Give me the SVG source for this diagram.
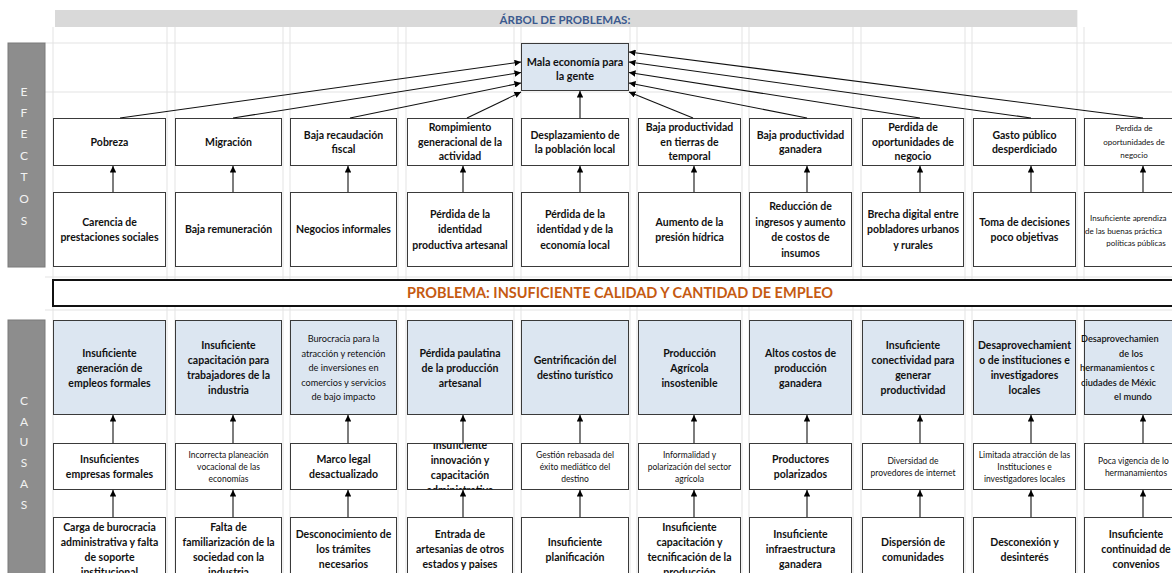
<svg xmlns="http://www.w3.org/2000/svg" width="1172" height="573" viewBox="0 0 1172 573">
<style>
.t{font-family:Lato,"Liberation Sans",sans-serif;font-weight:bold;font-size:10.5px;fill:#111;text-anchor:middle}
.s{font-family:Lato,"Liberation Sans",sans-serif;font-weight:normal;font-size:8.5px;fill:#111;text-anchor:middle}
.m{font-family:Lato,"Liberation Sans",sans-serif;font-weight:normal;font-size:9.2px;fill:#111;text-anchor:middle}
.st{text-anchor:start}
.bx{fill:#fff;stroke:#3a3a3a;stroke-width:1}
.bl{fill:#dce6f1;stroke:#3a3a3a;stroke-width:1}
.ln{stroke:#111;stroke-width:1.1;fill:none;marker-end:url(#ah)}
.g{stroke:#e3e3e3;stroke-width:1}
.pn{fill:#8d8d8d;stroke:#7a7a7a;stroke-width:1}
.pl{font-family:Lato,"Liberation Sans",sans-serif;font-size:12px;fill:#f2f2f2;text-anchor:middle}
</style>
<defs>
<marker id="ah" viewBox="0 0 8 8" refX="8" refY="4" markerWidth="6.5" markerHeight="6.5" markerUnits="userSpaceOnUse" orient="auto">
<path d="M0,0 L8,4 L0,8 z" fill="#000"/>
</marker>
<clipPath id="cd4"><rect x="407.5" y="443.5" width="105" height="46"/></clipPath>
</defs>
<rect width="1172" height="573" fill="#fff"/>
<g id="grid">
<line class="g" x1="53" y1="27" x2="53" y2="573"/>
<line class="g" x1="167" y1="27" x2="167" y2="573"/>
<line class="g" x1="175" y1="27" x2="175" y2="573"/>
<line class="g" x1="283" y1="27" x2="283" y2="573"/>
<line class="g" x1="290" y1="27" x2="290" y2="573"/>
<line class="g" x1="398" y1="27" x2="398" y2="573"/>
<line class="g" x1="406" y1="27" x2="406" y2="573"/>
<line class="g" x1="514" y1="27" x2="514" y2="573"/>
<line class="g" x1="521" y1="27" x2="521" y2="573"/>
<line class="g" x1="630" y1="27" x2="630" y2="573"/>
<line class="g" x1="637" y1="27" x2="637" y2="573"/>
<line class="g" x1="742" y1="27" x2="742" y2="573"/>
<line class="g" x1="749" y1="27" x2="749" y2="573"/>
<line class="g" x1="853" y1="27" x2="853" y2="573"/>
<line class="g" x1="861" y1="27" x2="861" y2="573"/>
<line class="g" x1="965" y1="27" x2="965" y2="573"/>
<line class="g" x1="972" y1="27" x2="972" y2="573"/>
<line class="g" x1="1077" y1="10" x2="1077" y2="573"/>
<line class="g" x1="1084" y1="27" x2="1084" y2="573"/>
<line class="g" x1="45" y1="43" x2="1172" y2="43"/>
<line class="g" x1="45" y1="92" x2="1172" y2="92"/>
<line class="g" x1="45" y1="277" x2="1172" y2="277"/>
<line class="g" x1="45" y1="310" x2="1172" y2="310"/>
</g>
<g id="header">
<rect x="55" y="10" width="1022" height="17" fill="#d9d9d9"/>
<text x="565" y="23.5" style="font-family:Lato,'Liberation Sans',sans-serif;font-weight:bold;font-size:11.5px;fill:#3b5a8f;text-anchor:middle">ÁRBOL DE PROBLEMAS:</text>
</g>
<g id="panel-efectos">
<rect class="pn" x="8" y="43" width="37" height="224"/>
<text class="pl" x="24"><tspan x="24" y="96">E</tspan><tspan x="24" y="117">F</tspan><tspan x="24" y="138">E</tspan><tspan x="24" y="160">C</tspan><tspan x="24" y="181">T</tspan><tspan x="24" y="203">O</tspan><tspan x="24" y="225">S</tspan></text>
</g>
<g id="panel-causas">
<rect class="pn" x="8" y="320" width="37" height="270"/>
<text class="pl" x="24"><tspan x="24" y="405">C</tspan><tspan x="24" y="426">A</tspan><tspan x="24" y="446">U</tspan><tspan x="24" y="467">S</tspan><tspan x="24" y="488">A</tspan><tspan x="24" y="509">S</tspan></text>
</g>
<g id="top">
<rect class="bl" x="521.5" y="43.5" width="107" height="47"/>
<text class="t" style="font-size:10.8px"><tspan x="575" y="65.7">Mala economía para</tspan><tspan x="575" y="79.7">la gente</tspan></text>
</g>
<g id="problema">
<rect x="53" y="280" width="1140" height="26" fill="#fff" stroke="#111" stroke-width="2"/>
<text x="620" y="298" style="font-family:Lato,'Liberation Sans',sans-serif;font-weight:bold;font-size:14.5px;fill:#c55a11;text-anchor:middle">PROBLEMA: INSUFICIENTE CALIDAD Y CANTIDAD DE EMPLEO</text>
</g>
<g id="e1"><rect class="bx" x="53.5" y="118.5" width="112" height="47"/><text class="t"><tspan x="109.5" y="145.7">Pobreza</tspan></text></g>
<g id="e2"><rect class="bx" x="175.5" y="118.5" width="106" height="47"/><text class="t"><tspan x="228.5" y="145.7">Migración</tspan></text></g>
<g id="e3"><rect class="bx" x="290.5" y="118.5" width="106" height="47"/><text class="t"><tspan x="343.5" y="138.5">Baja recaudación</tspan><tspan x="343.5" y="153">fiscal</tspan></text></g>
<g id="e4"><rect class="bx" x="407.5" y="118.5" width="105" height="47"/><text class="t"><tspan x="460" y="131.2">Rompimiento</tspan><tspan x="460" y="145.7">generacional de la</tspan><tspan x="460" y="160.2">actividad</tspan></text></g>
<g id="e5"><rect class="bx" x="521.5" y="118.5" width="107" height="47"/><text class="t"><tspan x="575" y="138.5">Desplazamiento de</tspan><tspan x="575" y="153">la población local</tspan></text></g>
<g id="e6"><rect class="bx" x="638.5" y="118.5" width="102" height="47"/><text class="t"><tspan x="689.5" y="131.2">Baja productividad</tspan><tspan x="689.5" y="145.7">en tierras de</tspan><tspan x="689.5" y="160.2">temporal</tspan></text></g>
<g id="e7"><rect class="bx" x="749.5" y="118.5" width="102" height="47"/><text class="t"><tspan x="800.5" y="138.5">Baja productividad</tspan><tspan x="800.5" y="153">ganadera</tspan></text></g>
<g id="e8"><rect class="bx" x="862.5" y="118.5" width="101" height="47"/><text class="t"><tspan x="913" y="131.2">Perdida de</tspan><tspan x="913" y="145.7">oportunidades de</tspan><tspan x="913" y="160.2">negocio</tspan></text></g>
<g id="e9"><rect class="bx" x="973.5" y="118.5" width="102" height="47"/><text class="t"><tspan x="1024.5" y="138.5">Gasto público</tspan><tspan x="1024.5" y="153">desperdiciado</tspan></text></g>
<g id="e10"><rect class="bx" x="1084.5" y="118.5" width="110" height="47"/><text class="s" style="font-size:8px"><tspan x="1134" y="131">Perdida de</tspan><tspan x="1134" y="145">oportunidades de</tspan><tspan x="1134" y="158">negocio</tspan></text></g>
<g id="f1"><rect class="bx" x="53.5" y="192.5" width="112" height="74"/><text class="t"><tspan x="109.5" y="225.5">Carencia de</tspan><tspan x="109.5" y="241">prestaciones sociales</tspan></text></g>
<g id="f2"><rect class="bx" x="175.5" y="192.5" width="106" height="74"/><text class="t"><tspan x="228.5" y="233.2">Baja remuneración</tspan></text></g>
<g id="f3"><rect class="bx" x="290.5" y="192.5" width="106" height="74"/><text class="t"><tspan x="343.5" y="233.2">Negocios informales</tspan></text></g>
<g id="f4"><rect class="bx" x="407.5" y="192.5" width="105" height="74"/><text class="t"><tspan x="460" y="217.7">Pérdida de la</tspan><tspan x="460" y="233.2">identidad</tspan><tspan x="460" y="248.7">productiva artesanal</tspan></text></g>
<g id="f5"><rect class="bx" x="521.5" y="192.5" width="107" height="74"/><text class="t"><tspan x="575" y="217.7">Pérdida de la</tspan><tspan x="575" y="233.2">identidad y de la</tspan><tspan x="575" y="248.7">economía local</tspan></text></g>
<g id="f6"><rect class="bx" x="638.5" y="192.5" width="102" height="74"/><text class="t"><tspan x="689.5" y="225.5">Aumento de la</tspan><tspan x="689.5" y="241">presión hídrica</tspan></text></g>
<g id="f7"><rect class="bx" x="749.5" y="192.5" width="102" height="74"/><text class="t"><tspan x="800.5" y="210">Reducción de</tspan><tspan x="800.5" y="225.5">ingresos y aumento</tspan><tspan x="800.5" y="241">de costos de</tspan><tspan x="800.5" y="256.5">insumos</tspan></text></g>
<g id="f8"><rect class="bx" x="862.5" y="192.5" width="101" height="74"/><text class="t"><tspan x="913" y="217.7">Brecha digital entre</tspan><tspan x="913" y="233.2">pobladores urbanos</tspan><tspan x="913" y="248.7">y rurales</tspan></text></g>
<g id="f9"><rect class="bx" x="973.5" y="192.5" width="102" height="74"/><text class="t"><tspan x="1024.5" y="225.5">Toma de decisiones</tspan><tspan x="1024.5" y="241">poco objetivas</tspan></text></g>
<g id="f10"><rect class="bx" x="1084.5" y="192.5" width="110" height="74"/><text class="s" style="font-size:8px"><tspan class="st" x="1090" y="221">Insuficiente aprendiza</tspan><tspan class="st" x="1085" y="233.5">de las buenas práctica</tspan><tspan x="1136" y="246">políticas públicas</tspan></text></g>
<g id="c1"><rect class="bl" x="53.5" y="320.5" width="112" height="94"/><text class="t"><tspan x="109.5" y="356.7">Insuficiente</tspan><tspan x="109.5" y="371.7">generación de</tspan><tspan x="109.5" y="386.7">empleos formales</tspan></text></g>
<g id="c2"><rect class="bl" x="175.5" y="320.5" width="106" height="94"/><text class="t"><tspan x="228.5" y="349.2">Insuficiente</tspan><tspan x="228.5" y="364.2">capacitación para</tspan><tspan x="228.5" y="379.2">trabajadores de la</tspan><tspan x="228.5" y="394.2">industria</tspan></text></g>
<g id="c3"><rect class="bl" x="290.5" y="320.5" width="106" height="94"/><text class="m"><tspan x="343.5" y="342.2">Burocracia para la</tspan><tspan x="343.5" y="356.7">atracción y retención</tspan><tspan x="343.5" y="371.2">de inversiones en</tspan><tspan x="343.5" y="385.7">comercios y servicios</tspan><tspan x="343.5" y="400.2">de bajo impacto</tspan></text></g>
<g id="c4"><rect class="bl" x="407.5" y="320.5" width="105" height="94"/><text class="t"><tspan x="460" y="356.7">Pérdida paulatina</tspan><tspan x="460" y="371.7">de la producción</tspan><tspan x="460" y="386.7">artesanal</tspan></text></g>
<g id="c5"><rect class="bl" x="521.5" y="320.5" width="107" height="94"/><text class="t"><tspan x="575" y="364.2">Gentrificación del</tspan><tspan x="575" y="379.2">destino turístico</tspan></text></g>
<g id="c6"><rect class="bl" x="638.5" y="320.5" width="102" height="94"/><text class="t"><tspan x="689.5" y="356.7">Producción</tspan><tspan x="689.5" y="371.7">Agrícola</tspan><tspan x="689.5" y="386.7">insostenible</tspan></text></g>
<g id="c7"><rect class="bl" x="749.5" y="320.5" width="102" height="94"/><text class="t"><tspan x="800.5" y="356.7">Altos costos de</tspan><tspan x="800.5" y="371.7">producción</tspan><tspan x="800.5" y="386.7">ganadera</tspan></text></g>
<g id="c8"><rect class="bl" x="862.5" y="320.5" width="101" height="94"/><text class="t"><tspan x="913" y="349.2">Insuficiente</tspan><tspan x="913" y="364.2">conectividad para</tspan><tspan x="913" y="379.2">generar</tspan><tspan x="913" y="394.2">productividad</tspan></text></g>
<g id="c9"><rect class="bl" x="973.5" y="320.5" width="102" height="94"/><text class="t"><tspan x="1024.5" y="349.2">Desaprovechamient</tspan><tspan x="1024.5" y="364.2">o de instituciones e</tspan><tspan x="1024.5" y="379.2">investigadores</tspan><tspan x="1024.5" y="394.2">locales</tspan></text></g>
<g id="c10"><rect class="bl" x="1084.5" y="320.5" width="110" height="94"/><text class="m" style="font-weight:600"><tspan class="st" x="1081" y="342.2">Desaprovechamien</tspan><tspan x="1131" y="356.7">de los</tspan><tspan class="st" x="1080" y="371.2">hermanamientos c</tspan><tspan class="st" x="1081" y="385.7">ciudades de Méxic</tspan><tspan x="1133" y="400.2">el mundo</tspan></text></g>
<g id="d1"><rect class="bx" x="53.5" y="443.5" width="112" height="46"/><text class="t"><tspan x="109.5" y="462.7">Insuficientes</tspan><tspan x="109.5" y="477.7">empresas formales</tspan></text></g>
<g id="d2"><rect class="bx" x="175.5" y="443.5" width="106" height="46"/><text class="s"><tspan x="228.5" y="457.5">Incorrecta planeación</tspan><tspan x="228.5" y="469.5">vocacional de las</tspan><tspan x="228.5" y="481.5">economías</tspan></text></g>
<g id="d3"><rect class="bx" x="290.5" y="443.5" width="106" height="46"/><text class="t"><tspan x="343.5" y="462.7">Marco legal</tspan><tspan x="343.5" y="477.7">desactualizado</tspan></text></g>
<g id="d4"><rect class="bx" x="407.5" y="443.5" width="105" height="46"/><text class="t" clip-path="url(#cd4)"><tspan x="460" y="448.7">Insuficiente</tspan><tspan x="460" y="463.7">innovación y</tspan><tspan x="460" y="478.7">capacitación</tspan><tspan x="460" y="493.7">administrativa</tspan></text></g>
<g id="d5"><rect class="bx" x="521.5" y="443.5" width="107" height="46"/><text class="s"><tspan x="575" y="457.5">Gestión rebasada del</tspan><tspan x="575" y="469.5">éxito mediático del</tspan><tspan x="575" y="481.5">destino</tspan></text></g>
<g id="d6"><rect class="bx" x="638.5" y="443.5" width="102" height="46"/><text class="s"><tspan x="689.5" y="457.5">Informalidad y</tspan><tspan x="689.5" y="469.5">polarización del sector</tspan><tspan x="689.5" y="481.5">agrícola</tspan></text></g>
<g id="d7"><rect class="bx" x="749.5" y="443.5" width="102" height="46"/><text class="t"><tspan x="800.5" y="462.7">Productores</tspan><tspan x="800.5" y="477.7">polarizados</tspan></text></g>
<g id="d8"><rect class="bx" x="862.5" y="443.5" width="101" height="46"/><text class="s"><tspan x="913" y="463.5">Diversidad de</tspan><tspan x="913" y="475.5">provedores de internet</tspan></text></g>
<g id="d9"><rect class="bx" x="973.5" y="443.5" width="102" height="46"/><text class="s"><tspan x="1024.5" y="457.5">Limitada atracción de las</tspan><tspan x="1024.5" y="469.5">Instituciones e</tspan><tspan x="1024.5" y="481.5">investigadores locales</tspan></text></g>
<g id="d10"><rect class="bx" x="1084.5" y="443.5" width="110" height="46"/><text class="s"><tspan class="st" x="1098" y="463.5">Poca vigencia de lo</tspan><tspan x="1136" y="475.5">hermanamientos</tspan></text></g>
<g id="g1"><rect class="bx" x="53.5" y="517.5" width="112" height="80"/><text class="t"><tspan x="109.5" y="530.7">Carga de burocracia</tspan><tspan x="109.5" y="545.7">administrativa y falta</tspan><tspan x="109.5" y="560.7">de soporte</tspan><tspan x="109.5" y="575.7">institucional</tspan></text></g>
<g id="g2"><rect class="bx" x="175.5" y="517.5" width="106" height="80"/><text class="t"><tspan x="228.5" y="530.7">Falta de</tspan><tspan x="228.5" y="545.7">familiarización de la</tspan><tspan x="228.5" y="560.7">sociedad con la</tspan><tspan x="228.5" y="575.7">industria</tspan></text></g>
<g id="g3"><rect class="bx" x="290.5" y="517.5" width="106" height="80"/><text class="t"><tspan x="343.5" y="538.2">Desconocimiento de</tspan><tspan x="343.5" y="553.2">los trámites</tspan><tspan x="343.5" y="568.2">necesarios</tspan></text></g>
<g id="g4"><rect class="bx" x="407.5" y="517.5" width="105" height="80"/><text class="t"><tspan x="460" y="538.2">Entrada de</tspan><tspan x="460" y="553.2">artesanias de otros</tspan><tspan x="460" y="568.2">estados y paises</tspan></text></g>
<g id="g5"><rect class="bx" x="521.5" y="517.5" width="107" height="80"/><text class="t"><tspan x="575" y="545.7">Insuficiente</tspan><tspan x="575" y="560.7">planificación</tspan></text></g>
<g id="g6"><rect class="bx" x="638.5" y="517.5" width="102" height="80"/><text class="t"><tspan x="689.5" y="530.7">Insuficiente</tspan><tspan x="689.5" y="545.7">capacitación y</tspan><tspan x="689.5" y="560.7">tecnificación de la</tspan><tspan x="689.5" y="575.7">producción</tspan></text></g>
<g id="g7"><rect class="bx" x="749.5" y="517.5" width="102" height="80"/><text class="t"><tspan x="800.5" y="538.2">Insuficiente</tspan><tspan x="800.5" y="553.2">infraestructura</tspan><tspan x="800.5" y="568.2">ganadera</tspan></text></g>
<g id="g8"><rect class="bx" x="862.5" y="517.5" width="101" height="80"/><text class="t"><tspan x="913" y="545.7">Dispersión de</tspan><tspan x="913" y="560.7">comunidades</tspan></text></g>
<g id="g9"><rect class="bx" x="973.5" y="517.5" width="102" height="80"/><text class="t"><tspan x="1024.5" y="545.7">Desconexión y</tspan><tspan x="1024.5" y="560.7">desinterés</tspan></text></g>
<g id="g10"><rect class="bx" x="1084.5" y="517.5" width="110" height="80"/><text class="t"><tspan x="1136" y="538.2">Insuficiente</tspan><tspan x="1136" y="553.2">continuidad de</tspan><tspan x="1136" y="568.2">convenios</tspan></text></g>
<g id="connectors">
<line class="ln" x1="120" y1="118" x2="521" y2="62"/>
<line class="ln" x1="233" y1="118" x2="521" y2="72.5"/>
<line class="ln" x1="350" y1="118" x2="521" y2="83"/>
<line class="ln" x1="467" y1="118" x2="521" y2="92"/>
<line class="ln" x1="580" y1="118" x2="580" y2="91"/>
<line class="ln" x1="693" y1="118" x2="629" y2="92"/>
<line class="ln" x1="807" y1="118" x2="629" y2="83"/>
<line class="ln" x1="920" y1="118" x2="629" y2="72.5"/>
<line class="ln" x1="1031" y1="118" x2="629" y2="62"/>
<line class="ln" x1="1143" y1="118" x2="629" y2="52"/>
<line class="ln" x1="113" y1="192" x2="113" y2="166"/>
<line class="ln" x1="233" y1="192" x2="233" y2="166"/>
<line class="ln" x1="348" y1="192" x2="348" y2="166"/>
<line class="ln" x1="463" y1="192" x2="463" y2="166"/>
<line class="ln" x1="580" y1="192" x2="580" y2="166"/>
<line class="ln" x1="694" y1="192" x2="694" y2="166"/>
<line class="ln" x1="807" y1="192" x2="807" y2="166"/>
<line class="ln" x1="920" y1="192" x2="920" y2="166"/>
<line class="ln" x1="1031" y1="192" x2="1031" y2="166"/>
<line class="ln" x1="1143" y1="192" x2="1143" y2="166"/>
<line class="ln" x1="113" y1="443" x2="113" y2="415"/>
<line class="ln" x1="233" y1="443" x2="233" y2="415"/>
<line class="ln" x1="348" y1="443" x2="348" y2="415"/>
<line class="ln" x1="463" y1="443" x2="463" y2="415"/>
<line class="ln" x1="580" y1="443" x2="580" y2="415"/>
<line class="ln" x1="694" y1="443" x2="694" y2="415"/>
<line class="ln" x1="807" y1="443" x2="807" y2="415"/>
<line class="ln" x1="920" y1="443" x2="920" y2="415"/>
<line class="ln" x1="1031" y1="443" x2="1031" y2="415"/>
<line class="ln" x1="1143" y1="443" x2="1143" y2="415"/>
<line class="ln" x1="113" y1="517" x2="113" y2="490"/>
<line class="ln" x1="233" y1="517" x2="233" y2="490"/>
<line class="ln" x1="348" y1="517" x2="348" y2="490"/>
<line class="ln" x1="463" y1="517" x2="463" y2="490"/>
<line class="ln" x1="580" y1="517" x2="580" y2="490"/>
<line class="ln" x1="694" y1="517" x2="694" y2="490"/>
<line class="ln" x1="807" y1="517" x2="807" y2="490"/>
<line class="ln" x1="920" y1="517" x2="920" y2="490"/>
<line class="ln" x1="1031" y1="517" x2="1031" y2="490"/>
<line class="ln" x1="1143" y1="517" x2="1143" y2="490"/>
</g>
</svg>
